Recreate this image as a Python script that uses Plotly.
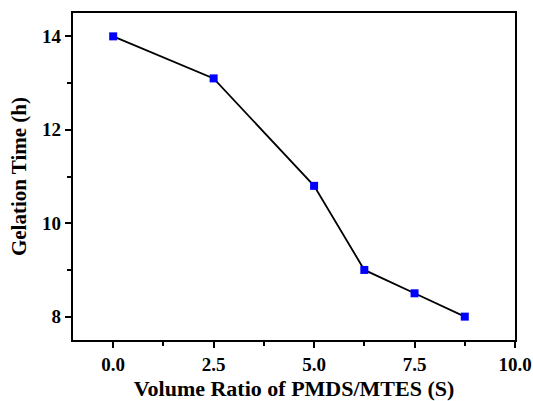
import plotly.graph_objects as go

ratio = [0.0, 2.5, 5.0, 6.25, 7.5, 8.75]
gel_time = [14.0, 13.1, 10.8, 9.0, 8.5, 8.0]

font_family = "Liberation Serif"

fig = go.Figure()
fig.add_trace(go.Scatter(
    x=ratio, y=gel_time, mode="lines+markers",
    line=dict(color="black", width=1.8),
    marker=dict(symbol="square", size=8, color="#0000ff", line=dict(width=0)),
    showlegend=False,
))

axis_common = dict(
    showline=True, linecolor="black", linewidth=2.2, mirror=True,
    showgrid=False, zeroline=False, automargin=False,
    ticks="outside", ticklen=6, tickwidth=2, tickcolor="black",
    tickfont=dict(family=font_family, size=19, color="black", weight="bold"),
)

fig.update_layout(
    width=533, height=401,
    margin=dict(l=73, r=18, t=13, b=61),
    plot_bgcolor="white", paper_bgcolor="white",
    xaxis=dict(
        range=[-1, 10], dtick=2.5, tick0=0, tickformat=".1f",
        minor=dict(ticks="outside", dtick=1.25, tick0=0, ticklen=4, tickwidth=2, tickcolor="black"),
        title=dict(text="Volume Ratio of PMDS/MTES (S)",
                   font=dict(family=font_family, size=22, color="black", weight="bold"),
                   standoff=8),
        **axis_common,
    ),
    yaxis=dict(
        range=[7.5, 14.5], dtick=2, tick0=8,
        minor=dict(ticks="outside", dtick=1, tick0=8, ticklen=4, tickwidth=2, tickcolor="black"),
        title=dict(text="Gelation Time (h)",
                   font=dict(family=font_family, size=21, color="black", weight="bold"),
                   standoff=10),
        **axis_common,
    ),
)

fig.write_html("out.html")
